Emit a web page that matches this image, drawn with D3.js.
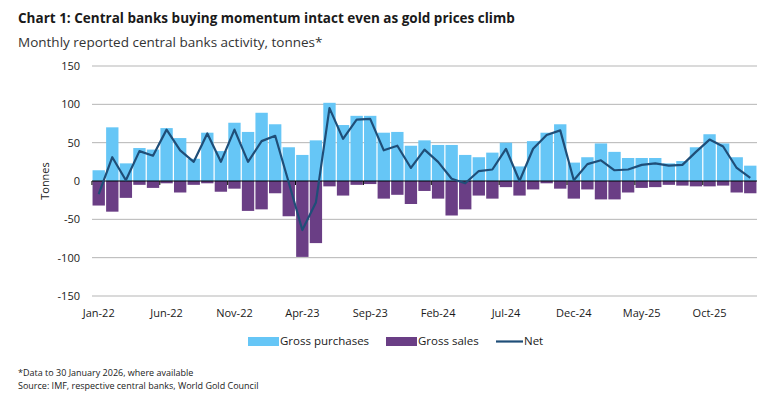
<!DOCTYPE html>
<html lang="en">
<head>
<meta charset="UTF-8">
<script src="https://d3js.org/d3.v7.min.js"></script>
<title>Central banks activity</title>
<style>
  body { margin: 0; background: #fff; }
  text { font-family: "Open Sans", sans-serif; fill: #1a1a1a; }
</style>
</head>
<body>
<script>
  // months Jan-22 .. Jan-26
  const months = d3.timeMonths(new Date(2022, 0, 1), new Date(2026, 1, 1)).map(d3.timeFormat("%b-%y"))

  // gross purchases (tonnes)
  const purchases = [14, 70, 23, 43, 41, 69, 56, 29, 63, 39, 76, 64, 89, 74, 44, 34,
    53, 102, 73, 85, 85, 63, 64, 46, 53, 47, 47, 34, 31, 37, 50, 19,
    52, 63, 74, 24, 31, 49, 38, 30, 30, 30, 23, 26, 44, 61, 49, 31, 20]

  // gross sales (tonnes, negative)
  const sales = [-32, -40, -22, -5, -9, -3, -15, -5, -3, -14, -10, -39, -37, -16, -46, -99,
    -81, -7, -19, -5, -4, -23, -18, -30, -13, -23, -45, -37, -19, -23, -8, -19,
    -11, -3, -10, -23, -11, -24, -24, -15, -9, -8, -5, -6, -7, -7, -6, -15, -16]

  // net
  const net = [-17, 31, 1, 39, 33, 67, 40, 25, 62, 25, 67, 25, 52, 59, -2, -64,
    -28, 95, 55, 80, 81, 40, 46, 17, 41, 25, 3, -3, 13, 15, 42, 0,
    42, 60, 66, 1, 22, 27, 14, 15, 21, 23, 20, 21, 38, 54, 45, 17, 4]

  const yTicks = [-150, -100, -50, 0, 50, 100, 150]
  const xTickLabels = ["Jan-22", "Jun-22", "Nov-22", "Apr-23", "Sep-23", "Feb-24", "Jul-24", "Dec-24", "May-25", "Oct-25"]

  const W = 783, H = 396
  const mLeft = 92, mRight = 757, mTop = 66, mBottom = 296

  const cPurch = "#66c6f6", cSales = "#6a3e85", cNet = "#1f4e78"

  const svg = d3.select("body").append("svg").attr("width", W).attr("height", H)

  // title
  svg.append("text").attr("x", 18).attr("y", 23)
    .style("font-size", "13.5px").style("font-weight", "bold")
    .text("Chart 1: Central banks buying momentum intact even as gold prices climb")
  svg.append("text").attr("x", 18).attr("y", 47)
    .style("font-size", "13.5px").style("fill", "#333")
    .text("Monthly reported central banks activity, tonnes*")

  const x = d3.scaleBand().domain(months).range([mLeft, mRight]).paddingInner(0.09).paddingOuter(0.04)
  const y = d3.scaleLinear().domain([-150, 150]).range([mBottom, mTop])

  // gridlines
  svg.append("g").selectAll("line").data(yTicks.filter(d => d != 0)).enter().append("line")
    .attr("x1", mLeft).attr("x2", mRight)
    .attr("y1", d => y(d)).attr("y2", d => y(d))
    .attr("stroke", "#b5b5b5").attr("stroke-width", 1)

  // y tick labels
  svg.append("g").selectAll("text").data(yTicks).enter().append("text")
    .attr("x", 80).attr("y", d => y(d) + 4)
    .attr("text-anchor", "end").style("font-size", "11px")
    .text(d => d)

  svg.append("text")
    .attr("transform", `translate(49,${y(0)}) rotate(-90)`)
    .attr("text-anchor", "middle").style("font-size", "11px")
    .text("Tonnes")

  // bars
  svg.append("g").selectAll("rect").data(purchases).enter().append("rect")
    .attr("x", (d, i) => x(months[i])).attr("width", x.bandwidth())
    .attr("y", d => y(d)).attr("height", d => y(0) - y(d))
    .attr("fill", cPurch)
  svg.append("g").selectAll("rect").data(sales).enter().append("rect")
    .attr("x", (d, i) => x(months[i])).attr("width", x.bandwidth())
    .attr("y", y(0)).attr("height", d => y(d) - y(0))
    .attr("fill", cSales)

  // zero axis with ticks
  svg.append("line").attr("x1", mLeft).attr("x2", mRight)
    .attr("y1", y(0)).attr("y2", y(0)).attr("stroke", "#000").attr("stroke-width", 1)
  const gap = (x.step() - x.bandwidth()) / 2
  svg.append("g").selectAll("line").data(xTickLabels).enter().append("line")
    .attr("x1", d => x(d) - gap).attr("x2", d => x(d) - gap)
    .attr("y1", y(0)).attr("y2", y(0) + 4)
    .attr("stroke", "#000").attr("stroke-width", 1)

  // net line
  const line = d3.line().x((d, i) => x(months[i]) + x.bandwidth() / 2).y(d => y(d))
  svg.append("path").datum(net).attr("d", line)
    .attr("fill", "none").attr("stroke", cNet).attr("stroke-width", 2.2)
    .attr("stroke-linejoin", "round")

  // x labels
  svg.append("g").selectAll("text").data(xTickLabels).enter().append("text")
    .attr("x", d => x(d) + x.bandwidth() / 2).attr("y", 317)
    .attr("text-anchor", "middle").style("font-size", "11px")
    .text(d => d)

  // legend
  const lg = svg.append("g").attr("transform", "translate(0,341)")
  lg.append("rect").attr("x", 248).attr("y", -4).attr("width", 31).attr("height", 9).attr("fill", cPurch)
  lg.append("text").attr("x", 280).attr("y", 4).style("font-size", "11.5px").text("Gross purchases")
  lg.append("rect").attr("x", 386).attr("y", -4).attr("width", 31).attr("height", 9).attr("fill", cSales)
  lg.append("text").attr("x", 418).attr("y", 4).style("font-size", "11.5px").text("Gross sales")
  lg.append("line").attr("x1", 496).attr("x2", 523).attr("y1", 0.5).attr("y2", 0.5)
    .attr("stroke", cNet).attr("stroke-width", 2.2)
  lg.append("text").attr("x", 524).attr("y", 4).style("font-size", "11.5px").text("Net")

  // footnotes
  svg.append("text").attr("x", 18).attr("y", 376).style("font-size", "9px")
    .text("*Data to 30 January 2026, where available")
  svg.append("text").attr("x", 18).attr("y", 389).style("font-size", "9px")
    .text("Source: IMF, respective central banks, World Gold Council")
</script>
</body>
</html>
